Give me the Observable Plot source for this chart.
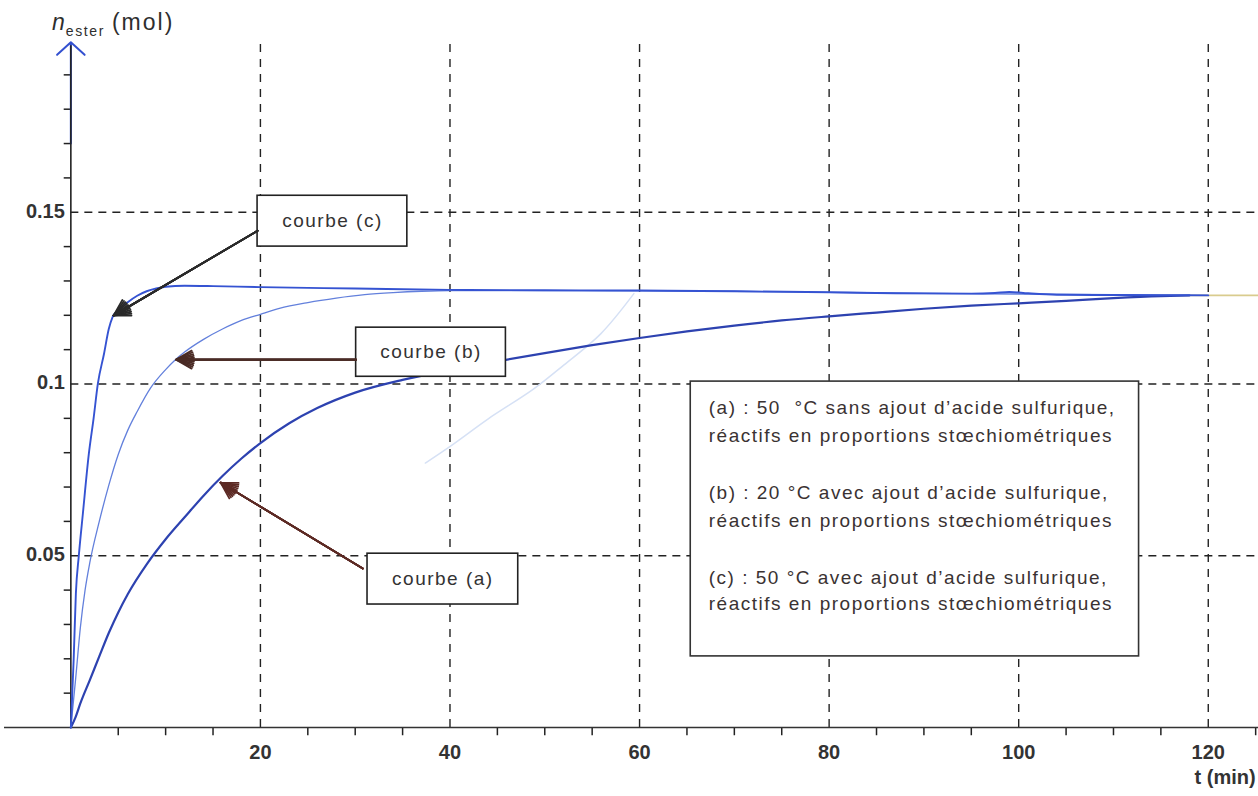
<!DOCTYPE html>
<html>
<head>
<meta charset="utf-8">
<script src="https://cdn.jsdelivr.net/npm/d3@7"></script>
<script src="https://cdn.jsdelivr.net/npm/@observablehq/plot@0.6"></script>
<style>
  html, body { margin: 0; padding: 0; background: #fff; overflow: hidden; }
  #wrap { position: relative; width: 1258px; height: 796px; }
  #ytitle { position: absolute; left: 52px; top: 9px; font-family: 'Liberation Sans', Arial, sans-serif; font-size: 23px; line-height: 26px; color: #2e2e2e; white-space: nowrap; }
  #ytitle .sub { font-size: 14px; letter-spacing: 1.6px; position: relative; top: 6px; margin-left: 1px; }
  #ytitle .unit { letter-spacing: 2px; margin-left: 7px; }
  g[aria-description="spaced"] text { letter-spacing: 1.5px; }
</style>
</head>
<body>
<div id="wrap">
  <div id="chart"></div>
  <div id="ytitle"><i>n</i><span class="sub">ester</span><span class="unit">(mol)</span></div>
</div>
<script>
// ---- data ----
// curve (a): 50 °C without sulfuric acid
const tA = [0, 0.5, 1, 2, 3, 4, 5, 6, 8, 10, 12, 14, 16, 18, 20, 23, 26, 30, 35, 40, 45, 50, 55, 60, 65, 70, 75, 80, 85, 90, 95, 100, 105, 110, 115, 118];
const nA = [0, 0.003, 0.007, 0.0138, 0.0207, 0.0275, 0.0335, 0.0388, 0.0475, 0.0548, 0.0612, 0.0675, 0.0732, 0.0783, 0.0828, 0.0885, 0.093, 0.0975, 0.1012, 0.104, 0.1066, 0.109, 0.1113, 0.1134, 0.1153, 0.117, 0.1185, 0.1197, 0.1208, 0.1219, 0.1228, 0.1235, 0.1242, 0.1250, 0.1256, 0.1258];
// curve (b): 20 °C with sulfuric acid
const tB = [0, 0.5, 1, 1.5, 2, 3, 4, 5, 6, 7, 8.4, 10, 11, 12, 14, 16, 18, 20, 22, 25, 28, 31, 34, 37, 40, 50, 60, 70, 80, 90, 100, 110, 120];
const nB = [0, 0.014, 0.029, 0.04, 0.048, 0.06, 0.0705, 0.0795, 0.0865, 0.092, 0.0988, 0.1042, 0.107, 0.1093, 0.113, 0.116, 0.1185, 0.1203, 0.122, 0.1237, 0.125, 0.126, 0.1266, 0.127, 0.1272, 0.1272, 0.1271, 0.127, 0.1267, 0.1264, 0.1262, 0.126, 0.1258];
// curve (c): 50 °C with sulfuric acid
const tC = [0, 0.3, 0.53, 0.84, 1.27, 1.9, 2.4, 2.85, 3.5, 4.0, 4.4, 5, 6, 7, 8, 9, 10, 12, 15, 20, 30, 40, 50, 60, 70, 80, 87, 95, 97.5, 99, 101, 104, 110, 120];
const nC = [0, 0.02, 0.039, 0.05, 0.0623, 0.0797, 0.09, 0.1001, 0.1088, 0.116, 0.1195, 0.1215, 0.1238, 0.1257, 0.127, 0.1278, 0.1283, 0.1286, 0.1285, 0.1282, 0.1278, 0.1274, 0.1273, 0.1272, 0.127, 0.1267, 0.1264, 0.1263, 0.1265, 0.1268, 0.1264, 0.126, 0.1259, 0.1258];
// faint show-through trace and the pale end of the plateau
const tG = [37.4, 40.4, 44, 48.8, 52, 55.9, 59.4];
const nG = [0.077, 0.0826, 0.0898, 0.0985, 0.1055, 0.1146, 0.1263];
const tT = [114, 125.3];
const nT = [0.1258, 0.1258];

// grid & ticks
const xGrid = [20, 40, 60, 80, 100, 120];
const xTickLabels = ["20", "40", "60", "80", "100", "120"];
const yGrid = [0.05, 0.1, 0.15];
const yTickLabels = ["0.05", "0.1", "0.15"];
const xMinor = [5, 10, 15, 25, 30, 35, 45, 50, 55, 65, 70, 75, 85, 90, 95, 105, 110, 115, 125];
const yMinor = [0.01, 0.02, 0.03, 0.04, 0.06, 0.07, 0.08, 0.09, 0.11, 0.12, 0.13, 0.14, 0.16, 0.17, 0.18, 0.19];

// annotation boxes (data coordinates)
const boxLabels = ["courbe (c)", "courbe (b)", "courbe (a)"];
const boxX1 = [19.7, 30.1, 31.3];
const boxX2 = [35.5, 45.9, 47.2];
const boxY1 = [0.1400, 0.1021, 0.0358];
const boxY2 = [0.1548, 0.1164, 0.0506];
const arrX1 = [19.7, 30.1, 30.8];
const arrY1 = [0.1446, 0.1071, 0.0463];
const arrX2 = [4.5, 11.1, 15.8];
const arrY2 = [0.1199, 0.1071, 0.0713];
const arrColors = ["#2a2a2a", "#4a2b25", "#5c2a24"];

// legend
const legendLines = [
  "(a) : 50  °C sans ajout d’acide sulfurique,",
  "réactifs en proportions stœchiométriques",
  "(b) : 20 °C avec ajout d’acide sulfurique,",
  "réactifs en proportions stœchiométriques",
  "(c) : 50 °C avec ajout d’acide sulfurique,",
  "réactifs en proportions stœchiométriques"
];
const legendY = [0.0931, 0.0850, 0.0684, 0.0602, 0.0436, 0.0361];
const legendX = 67.3;
const legendBox = {x1: 65.4, x2: 112.7, y1: 0.0207, y2: 0.1007};

// ---- build ----
const rows = (t, n) => t.map((d, i) => ({t: d, n: n[i]}));
const boxes = boxLabels.map((l, i) => ({l, x1: boxX1[i], x2: boxX2[i], y1: boxY1[i], y2: boxY2[i]}));
const arrows = arrX1.map((d, i) => ({x1: d, y1: arrY1[i], x2: arrX2[i], y2: arrY2[i], c: arrColors[i]}));
const legend = legendLines.map((l, i) => ({l, y: legendY[i]}));

const heads = [60, 48, 36, 24, 12, 2].map(a =>
  Plot.arrow(arrows, {x1: "x1", y1: "y1", x2: "x2", y2: "y2", stroke: "c", strokeWidth: 1.8, headLength: 15, headAngle: a})
);

const chart = Plot.plot({
  width: 1258,
  height: 796,
  marginLeft: 4,
  marginRight: 0,
  marginTop: 40,
  marginBottom: 69,
  x: {domain: [-7, 125.3], axis: null},
  y: {domain: [0, 0.2], axis: null},
  color: {type: "identity"},
  style: {fontFamily: "'Liberation Sans', Arial, sans-serif", background: "#fff", overflow: "visible"},
  marks: [
    Plot.ruleX(xGrid, {x: d => d, y1: 0, y2: 0.2, stroke: "#222", strokeWidth: 1.4, strokeDasharray: "8,7"}),
    Plot.ruleY(yGrid, {y: d => d, x1: 0, x2: 125.3, stroke: "#222", strokeWidth: 1.4, strokeDasharray: "8,6"}),
    Plot.ruleX(xMinor, {x: d => d, y1: 0, y2: -0.0024, stroke: "#222", strokeWidth: 1.5}),
    Plot.ruleY(yMinor, {y: d => d, x1: -0.7, x2: 0, stroke: "#222", strokeWidth: 1.5}),
    Plot.ruleY([0], {x1: -7, x2: 125.3, stroke: "#333", strokeWidth: 1.6}),
    Plot.arrow([{x1: 0, y1: 0.17, x2: 0, y2: 0.1995}], {x1: "x1", y1: "y1", x2: "x2", y2: "y2", stroke: "#3350d0", strokeWidth: 2, headLength: 14, headAngle: 95}),
    Plot.ruleX([0], {y1: 0, y2: 0.1985, stroke: "#222", strokeWidth: 1.6}),
    // curves
    Plot.line(rows(tG, nG), {x: "t", y: "n", stroke: "#d6e1f5", strokeWidth: 1.5, curve: "catmull-rom"}),
    Plot.line(rows(tT, nT), {x: "t", y: "n", stroke: "#d9cc8e", strokeWidth: 1.6}),
    Plot.line(rows(tA, nA), {x: "t", y: "n", stroke: "#2d42b0", strokeWidth: 2.2, curve: "monotone-x"}),
    Plot.line(rows(tB, nB), {x: "t", y: "n", stroke: "#6380dc", strokeWidth: 1.3, curve: "monotone-x"}),
    Plot.line(rows(tC, nC), {x: "t", y: "n", stroke: "#3553d2", strokeWidth: 1.9, curve: "monotone-x"}),
    // tick labels
    Plot.text(xGrid, {x: d => d, y: 0, text: (d, i) => xTickLabels[i], dy: 25, fontWeight: "bold", fontSize: 20, fill: "#333"}),
    Plot.text(yGrid, {x: 0, y: d => d, text: (d, i) => yTickLabels[i], dx: -6, dy: -1, textAnchor: "end", fontWeight: "bold", fontSize: 20, fill: "#333"}),
    Plot.text(["t (min)"], {x: 125.0, y: 0, text: d => d, dy: 50, textAnchor: "end", fontWeight: "bold", fontSize: 20, fill: "#333"}),
    // annotation boxes
    Plot.rect(boxes, {x1: "x1", x2: "x2", y1: "y1", y2: "y2", fill: "#fff", stroke: "#222", strokeWidth: 1.6}),
    Plot.text(boxes, {x: d => (d.x1 + d.x2) / 2, y: d => (d.y1 + d.y2) / 2, text: "l", fontSize: 19, fill: "#333", ariaDescription: "spaced"}),
    ...heads,
    // legend
    Plot.rect([legendBox], {x1: "x1", x2: "x2", y1: "y1", y2: "y2", fill: "#fff", stroke: "#333", strokeWidth: 1.6}),
    Plot.text(legend, {x: legendX, y: "y", text: "l", textAnchor: "start", fontSize: 19, fill: "#3a3232", ariaDescription: "spaced"})
  ]
});
document.getElementById("chart").appendChild(chart);
</script>
</body>
</html>
